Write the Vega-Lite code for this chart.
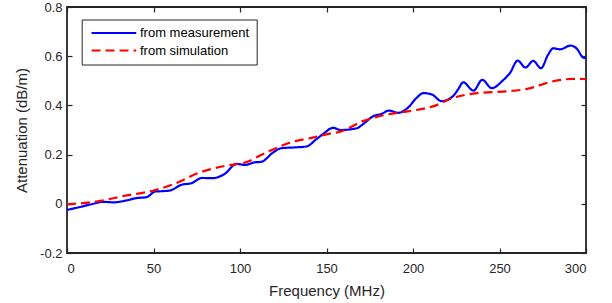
{
  "$schema": "https://vega.github.io/schema/vega-lite/v6.json",
  "width": 519,
  "height": 246,
  "autosize": {"type": "none"},
  "padding": {"left": 67, "top": 7, "right": 26, "bottom": 50},
  "background": "white",
  "config": {
    "view": {"stroke": "#262626", "strokeWidth": 1.8},
    "font": "Liberation Sans",
    "axis": {
      "grid": false,
      "domain": false,
      "offset": -5,
      "tickColor": "#262626",
      "tickWidth": 1.2,
      "tickSize": 5,
      "labelFont": "Liberation Sans",
      "labelFontSize": 13,
      "labelColor": "#262626",
      "titleFont": "Liberation Sans",
      "titleFontSize": 15,
      "titleFontWeight": "normal",
      "titleColor": "#262626"
    }
  },
  "datasets": {
    "d": [
      {"f": 0, "v": -0.025, "s": "from measurement"},
      {"f": 7.5, "v": -0.013, "s": "from measurement"},
      {"f": 14, "v": -0.002, "s": "from measurement"},
      {"f": 21, "v": 0.008, "s": "from measurement"},
      {"f": 27, "v": 0.006, "s": "from measurement"},
      {"f": 34.5, "v": 0.014, "s": "from measurement"},
      {"f": 40, "v": 0.023, "s": "from measurement"},
      {"f": 46, "v": 0.027, "s": "from measurement"},
      {"f": 51, "v": 0.05, "s": "from measurement"},
      {"f": 54, "v": 0.051, "s": "from measurement"},
      {"f": 59.5, "v": 0.054, "s": "from measurement"},
      {"f": 66, "v": 0.077, "s": "from measurement"},
      {"f": 72, "v": 0.084, "s": "from measurement"},
      {"f": 78, "v": 0.105, "s": "from measurement"},
      {"f": 84, "v": 0.104, "s": "from measurement"},
      {"f": 91, "v": 0.121, "s": "from measurement"},
      {"f": 98, "v": 0.162, "s": "from measurement"},
      {"f": 103, "v": 0.158, "s": "from measurement"},
      {"f": 108, "v": 0.168, "s": "from measurement"},
      {"f": 112.5, "v": 0.171, "s": "from measurement"},
      {"f": 119, "v": 0.208, "s": "from measurement"},
      {"f": 124, "v": 0.226, "s": "from measurement"},
      {"f": 131, "v": 0.229, "s": "from measurement"},
      {"f": 138.5, "v": 0.233, "s": "from measurement"},
      {"f": 144, "v": 0.262, "s": "from measurement"},
      {"f": 149, "v": 0.289, "s": "from measurement"},
      {"f": 152, "v": 0.305, "s": "from measurement"},
      {"f": 154, "v": 0.309, "s": "from measurement"},
      {"f": 158, "v": 0.3, "s": "from measurement"},
      {"f": 167.5, "v": 0.307, "s": "from measurement"},
      {"f": 171, "v": 0.323, "s": "from measurement"},
      {"f": 177, "v": 0.356, "s": "from measurement"},
      {"f": 182, "v": 0.366, "s": "from measurement"},
      {"f": 186, "v": 0.379, "s": "from measurement"},
      {"f": 191.5, "v": 0.37, "s": "from measurement"},
      {"f": 197, "v": 0.39, "s": "from measurement"},
      {"f": 202, "v": 0.43, "s": "from measurement"},
      {"f": 206, "v": 0.45, "s": "from measurement"},
      {"f": 211, "v": 0.444, "s": "from measurement"},
      {"f": 216.5, "v": 0.417, "s": "from measurement"},
      {"f": 223, "v": 0.437, "s": "from measurement"},
      {"f": 226, "v": 0.464, "s": "from measurement"},
      {"f": 229, "v": 0.494, "s": "from measurement"},
      {"f": 235, "v": 0.46, "s": "from measurement"},
      {"f": 240, "v": 0.504, "s": "from measurement"},
      {"f": 245.5, "v": 0.47, "s": "from measurement"},
      {"f": 252, "v": 0.502, "s": "from measurement"},
      {"f": 256, "v": 0.531, "s": "from measurement"},
      {"f": 260.5, "v": 0.582, "s": "from measurement"},
      {"f": 265, "v": 0.554, "s": "from measurement"},
      {"f": 269.5, "v": 0.581, "s": "from measurement"},
      {"f": 274, "v": 0.551, "s": "from measurement"},
      {"f": 278, "v": 0.605, "s": "from measurement"},
      {"f": 281, "v": 0.632, "s": "from measurement"},
      {"f": 285, "v": 0.628, "s": "from measurement"},
      {"f": 291, "v": 0.643, "s": "from measurement"},
      {"f": 294.5, "v": 0.632, "s": "from measurement"},
      {"f": 298.5, "v": 0.594, "s": "from measurement"},
      {"f": 300, "v": 0.592, "s": "from measurement"},
      {"f": 0, "v": -0.002, "s": "from simulation"},
      {"f": 15, "v": 0.007, "s": "from simulation"},
      {"f": 34.5, "v": 0.034, "s": "from simulation"},
      {"f": 50, "v": 0.054, "s": "from simulation"},
      {"f": 62, "v": 0.081, "s": "from simulation"},
      {"f": 77, "v": 0.128, "s": "from simulation"},
      {"f": 92, "v": 0.155, "s": "from simulation"},
      {"f": 103, "v": 0.168, "s": "from simulation"},
      {"f": 115, "v": 0.208, "s": "from simulation"},
      {"f": 129, "v": 0.249, "s": "from simulation"},
      {"f": 142, "v": 0.269, "s": "from simulation"},
      {"f": 152, "v": 0.285, "s": "from simulation"},
      {"f": 158, "v": 0.293, "s": "from simulation"},
      {"f": 171, "v": 0.336, "s": "from simulation"},
      {"f": 185, "v": 0.363, "s": "from simulation"},
      {"f": 198, "v": 0.377, "s": "from simulation"},
      {"f": 212, "v": 0.397, "s": "from simulation"},
      {"f": 223, "v": 0.43, "s": "from simulation"},
      {"f": 237, "v": 0.45, "s": "from simulation"},
      {"f": 254, "v": 0.457, "s": "from simulation"},
      {"f": 266, "v": 0.467, "s": "from simulation"},
      {"f": 281, "v": 0.498, "s": "from simulation"},
      {"f": 292.6, "v": 0.508, "s": "from simulation"},
      {"f": 300, "v": 0.507, "s": "from simulation"}
    ]
  },
  "data": {"name": "d"},
  "resolve": {"axis": {"x": "independent", "y": "independent"}},
  "layer": [
    {
      "mark": {"type": "line", "interpolate": "monotone", "strokeWidth": 2.2, "clip": true},
      "encoding": {
        "x": {
          "field": "f", "type": "quantitative",
          "scale": {"domain": [0, 300], "nice": false},
          "axis": {"orient": "bottom", "values": [0, 50, 100, 150, 200, 250, 300], "title": "Frequency (MHz)", "labelPadding": 9, "titlePadding": 8}
        },
        "y": {
          "field": "v", "type": "quantitative",
          "scale": {"domain": [-0.2, 0.8], "nice": false, "zero": false},
          "axis": {"orient": "left", "values": [-0.2, 0, 0.2, 0.4, 0.6, 0.8], "title": "Attenuation (dB/m)", "labelPadding": 5, "titlePadding": 10, "labelExpr": "replace(format(datum.value, ''), '\u2212', '-')"}
        },
        "color": {
          "field": "s", "type": "nominal",
          "scale": {"domain": ["from measurement", "from simulation"], "range": ["#0000FF", "#FF0000"]},
          "legend": {
            "title": null,
            "orient": "none",
            "legendX": 14.7,
            "legendY": 12.5,
            "symbolType": "M-5,0L5,0",
            "symbolSize": 80,
            "symbolStrokeWidth": 2.2,
            "symbolOffset": 18.7,
            "labelFont": "Liberation Sans",
            "labelFontSize": 13,
            "labelColor": "#000000",
            "labelOffset": 19.6,
            "strokeColor": "#262626",
            "fillColor": "white",
            "padding": 7,
            "rowPadding": 3.5
          }
        },
        "strokeDash": {
          "field": "s", "type": "nominal",
          "scale": {"domain": ["from measurement", "from simulation"], "range": [[1, 0], [9, 5]]},
          "legend": null
        }
      }
    },
    {
      "mark": {"type": "line", "opacity": 0},
      "encoding": {
        "x": {
          "field": "f", "type": "quantitative",
          "scale": {"domain": [0, 300], "nice": false},
          "axis": {"orient": "top", "values": [0, 50, 100, 150, 200, 250, 300], "labels": false, "title": null}
        },
        "y": {
          "field": "v", "type": "quantitative",
          "scale": {"domain": [-0.2, 0.8], "nice": false, "zero": false},
          "axis": {"orient": "right", "values": [-0.2, 0, 0.2, 0.4, 0.6, 0.8], "labels": false, "title": null}
        }
      }
    }
  ]
}
